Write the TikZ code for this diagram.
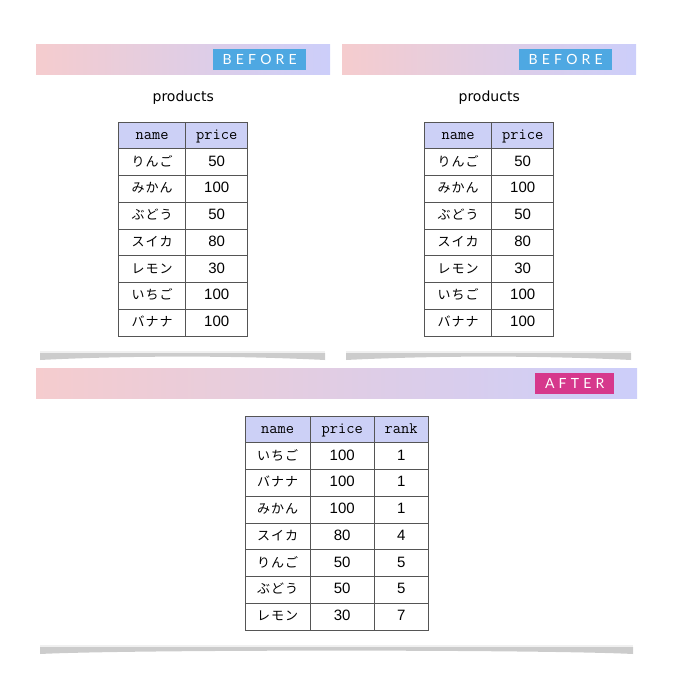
\documentclass[tikz,border=0pt]{standalone}
\usepackage{fontspec}
\setmainfont{Liberation Sans}
\setmonofont{Latin Modern Mono}
\newfontfamily\jpfont{Noto Sans CJK JP}[LetterSpace=8]
\newfontfamily\ttlfont{DejaVu Sans}
\newfontfamily\tagfont{Lato}[LetterSpace=30]
\usetikzlibrary{matrix,positioning}
\definecolor{barpink}{RGB}{245,204,206}
\definecolor{barlav}{RGB}{204,206,250}
\definecolor{hdrfill}{RGB}{204,208,246}
\definecolor{tagblue}{RGB}{78,168,226}
\definecolor{tagmag}{RGB}{214,56,140}
\definecolor{gridline}{RGB}{85,85,85}
% soft shadow under each panel
\newcommand{\shadowstrip}[3]{%
  \fill[black!20] (#1,#3) -- (#2,#3) -- (#2,#3+7) .. controls (#2-90,#3+2.5) and (#1+90,#3+2.5) .. (#1,#3+7) -- cycle;
  \draw[black!6, line width=1.5pt] (#1,#3-0.8) -- (#2,#3-0.8);}

\begin{document}
\begin{tikzpicture}[x=1pt,y=-1pt]
\tikzstyle{bar}=[inner sep=0pt,minimum height=30pt,left color=barpink,right color=barlav,anchor=north west]
\tikzstyle{tag}=[inner sep=0pt,minimum height=21pt,text=white,font=\tagfont\fontsize{14}{14}\selectfont]
\tikzstyle{ttl}=[inner sep=0pt,font=\ttlfont\fontsize{14}{14}\selectfont]
\tikzstyle{tbl}=[matrix of nodes,inner sep=0pt,column sep=-0.7pt,row sep=-0.7pt,
  nodes={draw=gridline,line width=0.7pt,minimum height=26.75pt,inner sep=0pt,text height=10.5pt,text depth=2.5pt,
    font=\fontsize{15}{15}\selectfont},
  column 1/.style={nodes={font=\jpfont\fontsize{13}{13}\selectfont,minimum width=67pt}},
  row 1/.style={nodes={fill=hdrfill,font=\ttfamily\fontsize{16}{16}\selectfont}}]
\useasboundingbox (0,0) rectangle (674,674);

% before, left
\node[bar,minimum width=294pt] (barL) at (36,44) {};
\node[tag,fill=tagblue,minimum width=93pt,left=24pt of barL.east] (tagL) {BEFORE};
\node[ttl,below=16pt of barL] (ttlL) {products};
\matrix (tblL) [tbl,below=17pt of ttlL,column 2/.style={nodes={minimum width=62pt}}] {
name & price \\
りんご & 50 \\
みかん & 100 \\
ぶどう & 50 \\
スイカ & 80 \\
レモン & 30 \\
いちご & 100 \\
バナナ & 100 \\
};
\shadowstrip{40}{325}{353}

% before, right
\node[bar,minimum width=294pt] (barR) at (342,44) {};
\node[tag,fill=tagblue,minimum width=93pt,left=24pt of barR.east] (tagR) {BEFORE};
\node[ttl,below=16pt of barR] (ttlR) {products};
\matrix (tblR) [tbl,below=17pt of ttlR,column 2/.style={nodes={minimum width=62pt}}] {
name & price \\
りんご & 50 \\
みかん & 100 \\
ぶどう & 50 \\
スイカ & 80 \\
レモン & 30 \\
いちご & 100 \\
バナナ & 100 \\
};
\shadowstrip{346}{631}{353}

% after
\node[bar,minimum width=601pt] (barA) at (36,368) {};
\node[tag,fill=tagmag,minimum width=79pt,left=23pt of barA.east] (tagA) {AFTER};
\matrix (tblA) [tbl,below=17pt of barA,column 1/.style={nodes={font=\jpfont\fontsize{13}{13}\selectfont,minimum width=65pt}},
  column 2/.style={nodes={minimum width=64pt}},column 3/.style={nodes={minimum width=54pt}}] {
name & price & rank \\
いちご & 100 & 1 \\
バナナ & 100 & 1 \\
みかん & 100 & 1 \\
スイカ & 80 & 4 \\
りんご & 50 & 5 \\
ぶどう & 50 & 5 \\
レモン & 30 & 7 \\
};
\shadowstrip{40}{633}{647}
\end{tikzpicture}
\end{document}
